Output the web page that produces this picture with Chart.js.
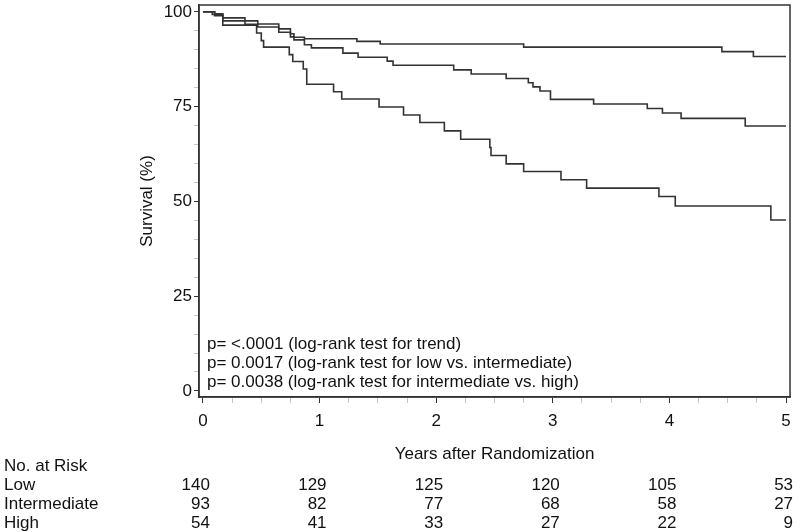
<!DOCTYPE html>
<html>
<head>
<meta charset="utf-8">
<script src="https://cdn.jsdelivr.net/npm/chart.js@4.4.1/dist/chart.umd.min.js"></script>
<style>
html, body { margin: 0; padding: 0; background: #fff; }
#wrap { width: 800px; height: 532px; }
</style>
</head>
<body>
<div id="wrap"><canvas id="km" width="800" height="532"></canvas></div>
<script>
// Kaplan-Meier steps: year of event, survival (%) after it
const lowYears = [0, 0.10, 0.17, 0.36, 0.47, 0.65, 0.75, 0.78, 0.87, 1.32, 1.52, 2.75, 4.45, 4.72, 5.0];
const lowSurv  = [100, 99.5, 98.4, 97.6, 96.8, 95.5, 94.2, 93.3, 92.9, 92.2, 91.5, 90.7, 89.5, 88.2, 88.2];

const midYears = [0, 0.08, 0.17, 0.36, 0.47, 0.65, 0.75, 0.78, 0.87, 0.93, 1.20, 1.33, 1.58, 1.63, 2.15, 2.30, 2.60, 2.79, 2.83, 2.89, 2.98, 3.35, 3.81, 3.94, 4.10, 4.65, 5.0];
const midSurv  = [100, 99.3, 97.6, 96.7, 96.0, 94.6, 93.4, 92.6, 91.3, 90.5, 89.1, 88.0, 87.0, 85.9, 84.7, 83.6, 82.4, 81.3, 80.2, 79.1, 76.9, 75.7, 74.5, 73.3, 71.9, 69.9, 69.9];

const highYears = [0, 0.10, 0.17, 0.46, 0.50, 0.52, 0.74, 0.77, 0.86, 0.89, 1.12, 1.19, 1.51, 1.72, 1.86, 2.07, 2.21, 2.46, 2.47, 2.60, 2.75, 3.07, 3.29, 3.91, 4.05, 4.87, 5.0];
const highSurv  = [100, 99.0, 96.5, 94.4, 92.4, 90.7, 88.7, 86.9, 84.9, 80.9, 78.9, 77.0, 74.9, 72.8, 70.8, 68.6, 66.4, 64.2, 62.1, 59.9, 57.9, 55.7, 53.5, 51.3, 48.8, 45.1, 45.1];

const yMajor = [0, 25, 50, 75, 100];
const xMajor = [0, 1, 2, 3, 4, 5];

const riskTitle = 'No. at Risk';
const riskYears = [0, 1, 2, 3, 4, 5];
const riskGroups = ['Low', 'Intermediate', 'High'];
const riskLow  = [140, 129, 125, 120, 105, 53];
const riskMid  = [93, 82, 77, 68, 58, 27];
const riskHigh = [54, 41, 33, 27, 22, 9];
const riskCounts = [riskLow, riskMid, riskHigh];

const pNotes = [
    'p= <.0001 (log-rank test for trend)',
    'p= 0.0017 (log-rank test for low vs. intermediate)',
    'p= 0.0038 (log-rank test for intermediate vs. high)'
];

const FONT = 'Arial, "Liberation Sans", sans-serif';
const ink = '#111';
const lineCol = '#333';

function toPoints(xs, ys) {
    return xs.map((v, i) => ({ x: v, y: ys[i] }));
}

function curve(label, xs, ys) {
    return {
        label: label,
        data: toPoints(xs, ys),
        stepped: 'before',
        borderColor: lineCol,
        borderWidth: 1.6,
        pointRadius: 0,
        fill: false
    };
}

const extras = {
    id: 'extras',
    afterDraw(chart) {
        const { ctx, chartArea: a, scales: { x } } = chart;
        ctx.save();
        ctx.strokeStyle = lineCol;
        ctx.lineWidth = 1.5;
        ctx.strokeRect(a.left, a.top, a.right - a.left, a.bottom - a.top);

        ctx.font = '17px ' + FONT;
        ctx.fillStyle = ink;
        ctx.textBaseline = 'middle';
        ctx.textAlign = 'left';
        pNotes.forEach((t, i) => ctx.fillText(t, a.left + 8, 344 + i * 19));

        ctx.fillText(riskTitle, 4, 466);
        riskGroups.forEach((g, r) => {
            const y = 485 + r * 19;
            ctx.textAlign = 'left';
            ctx.fillText(g, 4, y);
            ctx.textAlign = 'right';
            riskCounts[r].forEach((n, i) => {
                ctx.fillText(String(n), x.getPixelForValue(riskYears[i]) + 7, y);
            });
        });
        ctx.restore();
    }
};

const minorX = [];
for (let v = 0; v <= 5.0001; v += 0.25) minorX.push(Math.round(v * 100) / 100);
const minorY = [];
for (let v = 0; v <= 100; v += 5) minorY.push(v);

new Chart(document.getElementById('km').getContext('2d'), {
    type: 'line',
    data: {
        datasets: [
            curve('Low', lowYears, lowSurv),
            curve('Intermediate', midYears, midSurv),
            curve('High', highYears, highSurv)
        ]
    },
    options: {
        responsive: false,
        animation: false,
        devicePixelRatio: 1,
        layout: { padding: { top: 5, right: 10, left: 0, bottom: 0 } },
        plugins: {
            legend: { display: false },
            tooltip: { enabled: false }
        },
        scales: {
            x: {
                type: 'linear',
                min: -0.034,
                max: 5.034,
                afterBuildTicks: s => { s.ticks = minorX.map(v => ({ value: v })); },
                afterFit: s => {
                    s.height = 532 - 397;
                    s.paddingLeft = 0;
                    s.paddingRight = 0;
                },
                ticks: {
                    autoSkip: false,
                    maxRotation: 0,
                    padding: 8,
                    color: ink,
                    font: { family: FONT, size: 17 },
                    callback: v => xMajor.includes(v) ? String(v) : ''
                },
                grid: {
                    drawOnChartArea: false,
                    drawTicks: true,
                    tickLength: 6,
                    tickColor: c => xMajor.includes(c.tick.value) ? lineCol : '#c4c4c4'
                },
                border: { display: true, color: lineCol, width: 1.5 },
                title: {
                    display: true,
                    text: 'Years after Randomization',
                    color: ink,
                    font: { family: FONT, size: 17 },
                    padding: { top: 0, bottom: 67 }
                }
            },
            y: {
                type: 'linear',
                min: -1.6,
                max: 101.8,
                afterBuildTicks: s => { s.ticks = minorY.map(v => ({ value: v })); },
                afterFit: s => {
                    s.width = 199;
                    s.paddingTop = 0;
                    s.paddingBottom = 0;
                },
                ticks: {
                    autoSkip: false,
                    padding: 2,
                    color: ink,
                    font: { family: FONT, size: 17 },
                    callback: v => yMajor.includes(v) ? String(v) : ''
                },
                grid: {
                    drawOnChartArea: false,
                    drawTicks: true,
                    tickLength: 5,
                    tickColor: c => yMajor.includes(c.tick.value) ? lineCol : '#c4c4c4'
                },
                border: { display: true, color: lineCol, width: 1.5 },
                title: {
                    display: true,
                    text: 'Survival (%)',
                    color: ink,
                    font: { family: FONT, size: 17 },
                    padding: { top: 137, bottom: 0 }
                }
            }
        }
    },
    plugins: [extras]
});
</script>
</body>
</html>
